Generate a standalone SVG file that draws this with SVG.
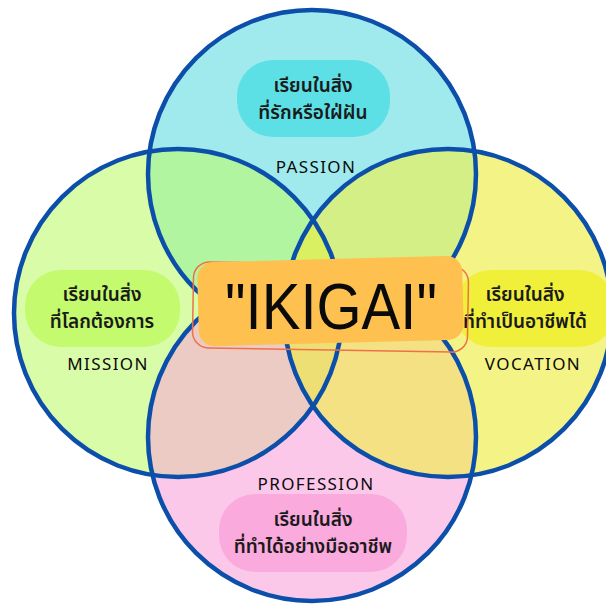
<svg xmlns="http://www.w3.org/2000/svg" width="606" height="608" viewBox="0 0 606 608">
<style>
.ring{fill:none;stroke:#0C4FAA;stroke-width:4.5}
.lbl{font-family:"Noto Sans","Liberation Sans",sans-serif;font-size:17px;fill:#0a0a0a;text-anchor:middle;letter-spacing:1.4px}
.th{font-family:"Noto Sans Thai","Noto Sans","Liberation Sans",sans-serif;font-size:19px;font-weight:600;fill:#1a1a1a;text-anchor:middle}
</style>
<defs>
<clipPath id="cT"><circle cx="312" cy="174" r="164"/></clipPath>
<clipPath id="cL"><circle cx="178" cy="313" r="164"/></clipPath>
<clipPath id="cR"><circle cx="448" cy="313" r="164"/></clipPath>
<clipPath id="cB"><circle cx="312" cy="437" r="164"/></clipPath>
</defs>
<rect width="606" height="608" fill="#ffffff"/>
<g id="fills">
<circle cx="312" cy="174" r="164" fill="#A0EAEE"/>
<circle cx="178" cy="313" r="164" fill="#D9FCA8"/>
<circle cx="448" cy="313" r="164" fill="#F4F486"/>
<circle cx="312" cy="437" r="164" fill="#FCC8EA"/>
<circle cx="178" cy="313" r="164" fill="#B1F5A1" clip-path="url(#cT)"/>
<circle cx="448" cy="313" r="164" fill="#D3EF85" clip-path="url(#cT)"/>
<circle cx="178" cy="313" r="164" fill="#ECCBC5" clip-path="url(#cB)"/>
<circle cx="448" cy="313" r="164" fill="#F3E184" clip-path="url(#cB)"/>
<circle cx="312" cy="437" r="164" fill="#E6D6C0" clip-path="url(#cT)"/>
<circle cx="448" cy="313" r="164" fill="#D8F062" clip-path="url(#cL)"/>
<g clip-path="url(#cL)"><circle cx="448" cy="313" r="164" fill="#EEDF74" clip-path="url(#cB)"/></g>
</g>
<g id="connectors">
<circle class="ring" cx="312" cy="174" r="164"/>
<circle class="ring" cx="178" cy="313" r="164"/>
<circle class="ring" cx="448" cy="313" r="164"/>
<circle class="ring" cx="312" cy="437" r="164"/>
</g>
<g id="passion">
<rect x="237" y="60" width="153" height="77" rx="36" fill="#5CE0E6"/>
<text class="th"><tspan x="313" y="92">เรียนในสิ่ง</tspan><tspan x="313" y="119">ที่รักหรือใฝ่ฝัน</tspan></text>
<text class="lbl" x="316" y="173">PASSION</text>
</g>
<g id="mission">
<rect x="25" y="270" width="155" height="77" rx="36" fill="#C4FA6E"/>
<text class="th"><tspan x="102" y="301">เรียนในสิ่ง</tspan><tspan x="102" y="328">ที่โลกต้องการ</tspan></text>
<text class="lbl" x="108" y="370">MISSION</text>
</g>
<g id="vocation">
<rect x="455" y="270" width="160" height="77" rx="36" fill="#F0F03A"/>
<text class="th"><tspan x="525" y="301">เรียนในสิ่ง</tspan><tspan x="525" y="328">ที่ทำเป็นอาชีพได้</tspan></text>
<text class="lbl" x="533" y="370">VOCATION</text>
</g>
<g id="profession">
<rect x="219" y="494" width="188" height="78" rx="36" fill="#FBAADE"/>
<text class="th"><tspan x="313" y="526">เรียนในสิ่ง</tspan><tspan x="313" y="553">ที่ทำได้อย่างมืออาชีพ</tspan></text>
<text class="lbl" x="316" y="490">PROFESSION</text>
</g>
<g id="ikigai">
<rect x="193" y="264" width="275" height="86" rx="16" fill="none" stroke="#F07048" stroke-width="1.5" transform="rotate(1 330 307)"/>
<rect x="198" y="259" width="265" height="84" rx="16" fill="#FEC04F" transform="rotate(-1.5 330 301)"/>
<text x="331" y="329" font-family="Liberation Sans,Arial,sans-serif" font-size="64" fill="#0a0a0a" text-anchor="middle" textLength="212" lengthAdjust="spacingAndGlyphs">"IKIGAI"</text>
</g>
</svg>
